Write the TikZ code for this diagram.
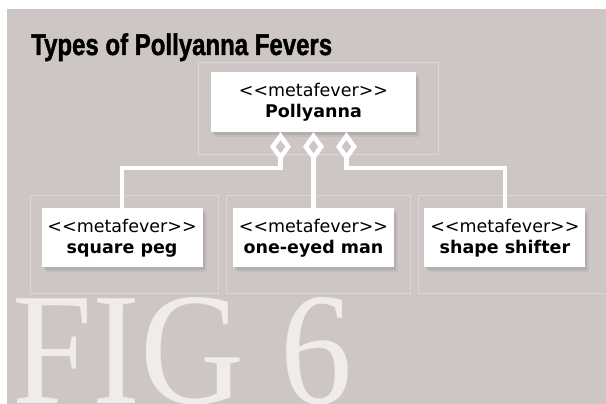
\documentclass[tikz,border=0pt]{standalone}
\usepackage{fontspec}
\setmainfont{DejaVu Sans}
\newfontfamily\titlefont[BoldFeatures={FakeBold=1.6}]{Liberation Sans}
\newfontfamily\figfont{Liberation Serif}
\usetikzlibrary{arrows.meta,positioning,shadows}
\definecolor{paper}{HTML}{CEC6C4}
\definecolor{ghost}{HTML}{EFECEB}
\tikzset{feverbox/.style={fill=white,inner sep=0pt,align=center,minimum width=161pt,minimum height=59pt,font=\fontsize{17.5}{21}\selectfont,drop shadow={shadow xshift=2pt,shadow yshift=-3pt,opacity=.22},drop shadow={shadow xshift=4pt,shadow yshift=-5pt,opacity=.14}}, aggline/.style={draw=white,line width=4.5pt,line join=miter,{Diamond[open,length=29pt,width=21pt]}-}, guide/.style={draw=white,opacity=.3,line width=.8pt}, titletext/.style={font=\titlefont\bfseries\fontsize{30}{30}\selectfont,inner sep=0pt}, figtext/.style={font=\figfont\fontsize{160}{160}\selectfont,text=ghost,inner sep=0pt}}
\begin{document}
\begin{tikzpicture}[x=1pt,y=-1pt,node distance=76pt and 30pt]
\useasboundingbox (0,0) rectangle (606,404);
\fill[paper] (7,9) rectangle (606,404);
\begin{scope}
\clip (7,9) rectangle (606,404);
\node[figtext,anchor=base west] (figlabel) at (12,403) {\scalebox{.9}[1]{FIG 6}};
\end{scope}
% faint layout frames
\draw[guide] (198,62) rectangle (438,154);
\draw[guide] (30,195) rectangle (218,293);
\draw[guide] (226,195) rectangle (410,293);
\draw[guide] (606,195) -- (418,195) -- (418,293) -- (606,293);
\node[titletext,anchor=base west] (title) at (31,55) {\scalebox{.8}[1]{Types of Pollyanna Fevers}};
\node[feverbox,minimum width=205pt,minimum height=60pt] (pollyanna) at (313.5,102) {<{}<metafever>{}>\\\textbf{Pollyanna}};
\node[feverbox,below=of pollyanna] (oneeyed) {<{}<metafever>{}>\\\textbf{one-eyed man}};
\node[feverbox,left=of oneeyed] (squarepeg) {<{}<metafever>{}>\\\textbf{square peg}};
\node[feverbox,right=of oneeyed] (shifter) {<{}<metafever>{}>\\\textbf{shape shifter}};
\coordinate (agg1) at ([xshift=-33pt]pollyanna.south);
\coordinate (agg3) at ([xshift=33pt]pollyanna.south);
\draw[aggline] (agg1) -- ++(0,36) -| (squarepeg.north);
\draw[aggline] (pollyanna.south) -- (oneeyed.north);
\draw[aggline] (agg3) -- ++(0,36) -| (shifter.north);
\end{tikzpicture}
\end{document}
